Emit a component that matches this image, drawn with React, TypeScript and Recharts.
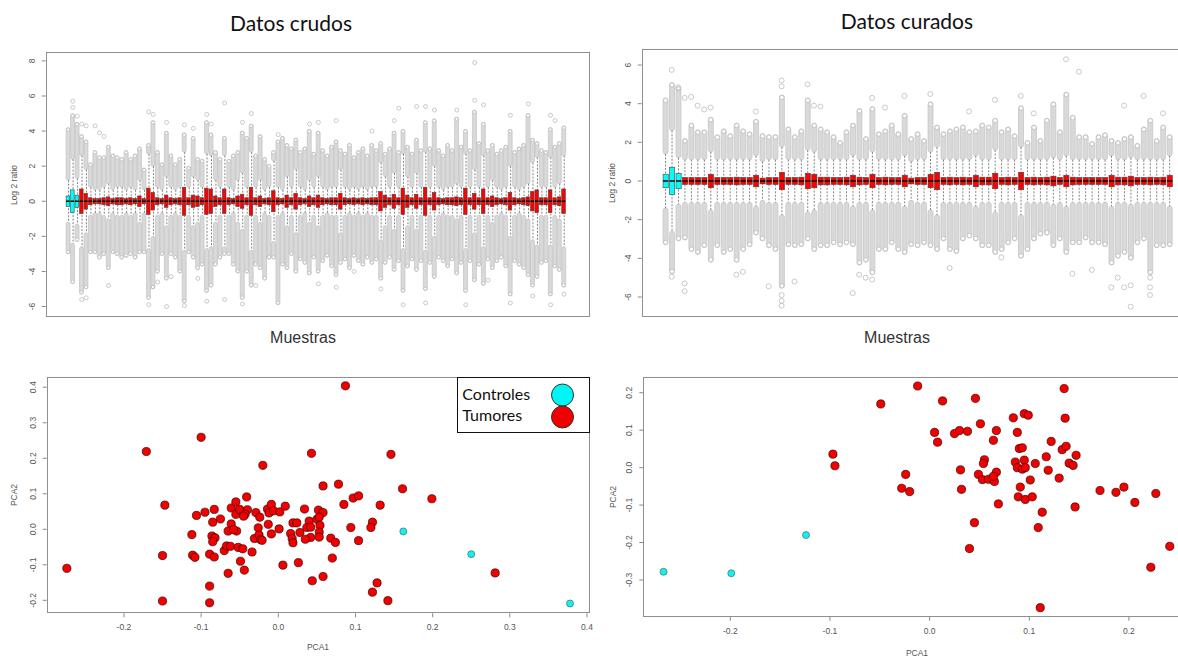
import React from 'react';
import { ComposedChart, ScatterChart, Bar, Scatter, XAxis, YAxis } from 'recharts';

const FONT = '"Liberation Sans", Arial, sans-serif';
const TITLE_FONT = 'Lato, "Open Sans", sans-serif';

// ---------- Datos crudos: 112 samples, first three are controls ----------
const crudosControls = [1, 2, 3];
// half height of each box (q3; q1 is the mirror)
const crudosBox = [
  0.3, 0.65, 0.35, 0.7, 0.45, 0.2, 0.15, 0.15, 0.2, 0.25, 0.15, 0.2, 0.2, 0.15, 0.2, 0.15,
  0.3, 0.15, 0.75, 0.5, 0.2, 0.15, 0.35, 0.2, 0.15, 0.2, 0.8, 0.2, 0.35, 0.3, 0.2, 0.75,
  0.7, 0.3, 0.2, 0.7, 0.2, 0.15, 0.3, 0.4, 0.2, 0.8, 0.2, 0.3, 0.15, 0.2, 0.6, 0.2,
  0.15, 0.35, 0.2, 0.45, 0.2, 0.15, 0.3, 0.2, 0.35, 0.2, 0.15, 0.2, 0.2, 0.45, 0.2, 0.15,
  0.2, 0.15, 0.2, 0.15, 0.2, 0.2, 0.55, 0.35, 0.2, 0.4, 0.2, 0.75, 0.35, 0.2, 0.4, 0.2,
  0.8, 0.2, 0.5, 0.2, 0.15, 0.2, 0.2, 0.25, 0.2, 0.75, 0.2, 0.45, 0.2, 0.7, 0.2, 0.3,
  0.2, 0.15, 0.2, 0.5, 0.2, 0.15, 0.2, 0.25, 0.55, 0.65, 0.2, 0.2, 0.65, 0.2, 0.25, 0.7,
];
// whisker reach (symmetric)
const crudosWhisk = [
  1.2, 2.4, 1.3, 2.6, 1.8, 0.8, 0.65, 0.65, 0.8, 1.0, 0.65, 0.8, 0.8, 0.65, 0.8, 0.65,
  1.2, 0.65, 2.7, 2.0, 0.8, 0.65, 1.4, 0.8, 0.65, 0.8, 2.8, 0.8, 1.4, 1.2, 0.8, 2.7,
  2.6, 1.2, 0.8, 2.6, 0.8, 0.65, 1.2, 1.6, 0.8, 2.8, 0.8, 1.2, 0.65, 0.8, 2.3, 0.8,
  0.65, 1.4, 0.8, 1.8, 0.8, 0.65, 1.2, 0.8, 1.4, 0.8, 0.65, 0.8, 0.8, 1.8, 0.8, 0.65,
  0.8, 0.65, 0.8, 0.65, 0.8, 0.8, 2.2, 1.4, 0.8, 1.6, 0.8, 2.7, 1.4, 0.8, 1.6, 0.8,
  2.8, 0.8, 2.0, 0.8, 0.65, 0.8, 0.8, 1.0, 0.8, 2.7, 0.8, 1.8, 0.8, 2.6, 0.8, 1.2,
  0.8, 0.65, 0.8, 2.0, 0.8, 0.65, 0.8, 1.0, 2.2, 2.5, 0.8, 0.8, 2.5, 0.8, 1.0, 2.6,
];
// top of the dense run of outliers
const crudosMax = [
  4.2, 5.0, 4.5, 3.8, 3.5, 2.2, 2.9, 2.6, 2.6, 3.2, 2.7, 2.6, 2.5, 2.9, 2.5, 2.7,
  3.1, 1.9, 3.3, 4.6, 2.9, 2.2, 4.0, 2.7, 2.2, 2.5, 3.9, 2.0, 3.7, 2.5, 2.4, 4.6,
  3.9, 2.9, 2.5, 3.7, 2.4, 2.7, 2.9, 4.0, 3.7, 4.4, 2.7, 3.8, 2.5, 2.1, 2.9, 3.5,
  3.7, 3.3, 3.1, 3.6, 2.9, 3.1, 4.1, 2.8, 4.0, 3.0, 2.7, 3.2, 3.5, 3.0, 2.8, 3.3,
  2.6, 2.9, 3.1, 2.7, 3.3, 3.0, 3.4, 2.8, 3.1, 4.0, 2.9, 4.1, 3.2, 2.8, 3.6, 3.0,
  4.6, 3.1, 4.7, 3.0, 2.7, 3.3, 3.0, 4.8, 3.2, 4.1, 3.0, 5.2, 3.4, 4.5, 3.0, 3.3,
  2.8, 3.0, 3.2, 4.1, 2.9, 3.1, 3.3, 5.0, 3.6, 3.4, 3.0, 2.9, 4.2, 3.2, 3.4, 4.3,
];
// bottom of the dense run of outliers
const crudosMin = [
  -3.0, -4.7, -2.3, -5.3, -5.0, -3.0, -3.0, -3.3, -3.1, -3.9, -3.0, -3.1, -3.3, -3.2, -3.1, -3.3,
  -3.0, -3.0, -5.6, -5.0, -4.1, -3.1, -4.5, -3.1, -3.3, -4.1, -5.8, -3.0, -3.3, -3.9, -3.7, -5.2,
  -4.9, -3.7, -3.3, -3.1, -3.1, -3.7, -4.1, -5.6, -4.1, -4.9, -3.7, -3.9, -4.5, -3.3, -3.3, -5.9,
  -3.7, -3.9, -3.1, -4.1, -3.4, -3.6, -4.2, -3.3, -4.1, -3.5, -3.2, -3.8, -4.3, -3.6, -3.4, -3.9,
  -3.2, -3.5, -3.7, -3.3, -3.6, -3.4, -4.5, -3.6, -3.3, -4.0, -3.5, -5.2, -3.8, -3.4, -4.0, -3.5,
  -5.1, -3.6, -4.4, -3.3, -3.5, -3.8, -3.4, -4.2, -3.6, -5.2, -3.5, -4.6, -3.7, -4.8, -3.4, -3.9,
  -3.5, -3.3, -3.8, -5.4, -3.5, -3.7, -3.9, -4.3, -4.9, -4.4, -3.6, -3.5, -5.4, -3.8, -4.0, -4.9,
];
// isolated outliers [sample, value]
const crudosOutliers = [
  [2, 5.7], [2, 5.35], [3, 4.85], [4, 4.4], [5, 4.3], [7, 4.3], [8, 3.9], [9, 3.7], [19, 5.1],
  [20, 4.95], [23, 4.5], [27, 4.35], [29, 4.15], [32, 4.95], [33, 4.4], [36, 5.6], [40, 4.5],
  [42, 5.0], [48, 3.8], [55, 4.4], [57, 4.5], [61, 4.6], [69, 4.0], [74, 4.6], [75, 5.3],
  [79, 5.4], [81, 5.4], [83, 5.2], [88, 5.2], [92, 7.9], [92, 5.75], [94, 5.5], [100, 4.9],
  [104, 5.55], [109, 4.9], [110, 4.6],
  [4, -5.6], [5, -5.5], [10, -4.8], [19, -5.9], [21, -4.6], [23, -6.0], [27, -5.95], [32, -5.7],
  [36, -5.6], [40, -5.85], [43, -4.8], [57, -4.7], [61, -4.9], [65, -4.0], [71, -5.0],
  [76, -5.9], [81, -5.8], [90, -5.9], [95, -4.5], [100, -5.8], [105, -5.4], [109, -5.9],
  [112, -5.3], [30, -4.4], [24, -4.3],
];
const crudosTicks = [-6, -4, -2, 0, 2, 4, 6, 8];

// ---------- Datos curados: 79 samples, first three are controls ----------
const curadosControls = [1, 2, 3];
const curadosBox = [
  0.35, 0.7, 0.4, 0.18, 0.18, 0.18, 0.18, 0.35, 0.18, 0.18, 0.18, 0.2, 0.18, 0.18, 0.3, 0.15,
  0.18, 0.18, 0.45, 0.18, 0.18, 0.2, 0.4, 0.35, 0.2, 0.2, 0.18, 0.18, 0.2, 0.3, 0.2, 0.18,
  0.35, 0.18, 0.2, 0.18, 0.18, 0.3, 0.15, 0.18, 0.18, 0.35, 0.45, 0.18, 0.2, 0.18, 0.2, 0.18,
  0.3, 0.2, 0.2, 0.4, 0.18, 0.2, 0.18, 0.45, 0.18, 0.2, 0.18, 0.2, 0.25, 0.18, 0.3, 0.2,
  0.18, 0.18, 0.18, 0.18, 0.18, 0.3, 0.2, 0.2, 0.25, 0.18, 0.18, 0.2, 0.18, 0.2, 0.3,
];
const curadosWhisk = [
  1.4, 2.6, 1.2, 1.1, 1.1, 1.1, 1.1, 1.5, 1.1, 1.1, 1.1, 1.1, 1.1, 1.1, 1.3, 1.0,
  1.1, 1.1, 1.75, 1.1, 1.1, 1.1, 1.6, 1.5, 1.1, 1.1, 1.1, 1.1, 1.1, 1.3, 1.1, 1.1,
  1.5, 1.1, 1.1, 1.1, 1.1, 1.3, 1.0, 1.1, 1.1, 1.5, 1.75, 1.1, 1.1, 1.1, 1.1, 1.1,
  1.3, 1.1, 1.1, 1.6, 1.1, 1.1, 1.1, 1.75, 1.1, 1.1, 1.1, 1.1, 1.2, 1.1, 1.3, 1.1,
  1.1, 1.1, 1.1, 1.1, 1.1, 1.3, 1.1, 1.1, 1.2, 1.1, 1.1, 1.1, 1.1, 1.1, 1.3,
];
const curadosMax = [
  4.3, 5.1, 4.9, 2.2, 3.0, 2.65, 2.65, 3.3, 2.4, 2.7, 2.45, 3.0, 2.7, 2.55, 3.2, 2.45,
  2.4, 2.4, 4.45, 2.8, 2.4, 2.7, 4.3, 3.0, 2.8, 2.65, 2.4, 2.1, 2.65, 3.0, 3.75, 2.3,
  3.85, 2.55, 2.7, 3.0, 2.55, 3.5, 2.3, 2.55, 2.2, 4.1, 2.9, 2.55, 2.7, 2.8, 2.9, 2.65,
  2.7, 3.0, 2.9, 3.25, 2.65, 2.8, 2.45, 3.9, 2.1, 2.9, 2.2, 3.25, 4.1, 2.65, 4.6, 3.4,
  2.4, 2.4, 2.05, 2.4, 2.5, 2.2, 2.1, 2.3, 2.4, 1.95, 2.8, 3.25, 2.2, 2.9, 2.4,
];
const curadosMin = [
  -3.3, -4.8, -3.1, -3.05, -3.65, -3.8, -3.45, -4.2, -3.45, -3.8, -3.65, -4.2, -3.65, -3.4, -2.8, -3.1,
  -3.45, -3.65, -5.55, -3.4, -3.45, -3.4, -3.1, -3.65, -3.45, -3.45, -3.3, -3.4, -3.3, -3.4, -4.35, -4.2,
  -4.85, -3.65, -3.65, -3.3, -3.65, -3.8, -3.4, -3.45, -3.3, -3.45, -3.65, -3.1, -3.65, -3.75, -3.1, -2.95,
  -3.1, -3.45, -3.45, -3.8, -3.65, -3.3, -3.1, -4.0, -3.65, -3.1, -2.85, -2.8, -3.45, -3.1, -3.8, -3.3,
  -3.3, -3.05, -3.3, -3.3, -3.4, -4.35, -4.0, -3.8, -4.1, -3.3, -3.1, -4.85, -3.45, -3.45, -3.4,
];
const curadosOutliers = [
  [2, 5.75], [3, 4.85], [4, 4.3], [5, 4.35], [6, 3.9], [7, 3.7], [8, 3.8], [15, 3.6], [19, 4.9],
  [19, 5.2], [23, 5.0], [24, 3.9], [25, 3.85], [33, 4.3], [35, 3.8], [38, 4.4], [42, 4.5],
  [48, 3.6], [52, 4.2], [56, 4.4], [58, 3.5], [63, 6.3], [65, 5.65], [72, 3.9], [75, 4.4], [78, 3.5],
  [4, -5.3], [4, -5.7], [12, -4.85], [17, -5.45], [19, -5.9], [19, -6.2], [19, -6.45], [21, -5.2],
  [13, -4.7], [30, -5.8], [31, -4.85], [32, -5.0], [33, -5.1], [45, -4.5], [53, -3.95], [64, -4.8],
  [67, -4.6], [70, -5.5], [71, -5.0], [72, -5.5], [73, -5.4], [73, -6.5], [76, -5.0], [76, -5.5],
  [76, -5.9], [2, -4.95],
];
const curadosTicks = [-6, -4, -2, 0, 2, 4, 6];

// every median was read at 0
const sampleMedian = 0;

// ---------- PCA, datos crudos ----------
const crudosPcaTumores = [
  [-0.274, -0.11], [-0.171, 0.219], [-0.1, 0.259], [-0.02, 0.18], [-0.147, 0.068], [-0.15, -0.074],
  [-0.15, -0.202], [-0.089, -0.16], [-0.089, -0.207], [-0.065, -0.124], [-0.044, -0.115], [-0.049, -0.09],
  [0.006, -0.101], [0.026, -0.094], [-0.112, -0.015], [-0.111, -0.073], [-0.108, -0.079], [-0.106, 0.039],
  [-0.095, 0.048], [-0.083, 0.056], [-0.085, 0.02], [-0.086, -0.019], [-0.082, -0.024], [-0.085, -0.035],
  [-0.089, -0.07], [-0.083, -0.078], [-0.075, 0.029], [-0.07, -0.06], [-0.067, -0.047], [-0.062, -0.048],
  [-0.065, -0.005], [-0.061, 0.015], [-0.061, 0.06], [-0.055, 0.077], [-0.055, 0.042], [-0.054, -0.005],
  [-0.058, -0.001], [-0.052, -0.051], [-0.046, -0.055], [-0.05, 0.056], [-0.041, 0.091], [-0.04, 0.055],
  [-0.043, 0.042], [-0.045, 0.037], [-0.034, -0.064], [-0.029, 0.047], [-0.024, 0.034], [-0.026, 0.004],
  [-0.031, -0.026], [-0.025, -0.016], [-0.023, -0.029], [-0.021, -0.031], [-0.013, 0.014], [-0.014, 0.057],
  [-0.012, 0.046], [-0.009, 0.07], [-0.009, -0.013], [-0.006, 0.052], [0.002, 0.049], [0.001, 0.001],
  [0.009, 0.065], [0.016, -0.012], [0.019, 0.018], [0.018, -0.026], [0.019, -0.038], [0.024, 0.018],
  [0.028, -0.009], [0.087, 0.404], [0.043, 0.214], [0.146, 0.211], [0.058, 0.122], [0.078, 0.127],
  [0.161, 0.114], [0.199, 0.086], [0.097, 0.088], [0.104, 0.094], [0.085, 0.07], [0.132, 0.068],
  [0.034, 0.057], [0.052, 0.054], [0.058, 0.047], [0.04, 0.023], [0.05, 0.028], [0.053, 0.034],
  [0.037, 0.005], [0.042, 0.006], [0.054, 0.011], [0.053, -0.008], [0.053, -0.022], [0.042, -0.023],
  [0.035, -0.028], [0.068, -0.025], [0.074, -0.037], [0.094, 0.005], [0.122, 0.02], [0.12, 0.005],
  [0.104, -0.032], [0.07, -0.081], [0.058, -0.133], [0.044, -0.145], [0.128, -0.151], [0.122, -0.177],
  [0.142, -0.201], [0.281, -0.123],
];
const crudosPcaControles = [[0.162, -0.006], [0.25, -0.07], [0.378, -0.209]];
const crudosPcaXTicks = [-0.2, -0.1, 0, 0.1, 0.2, 0.3, 0.4];
const crudosPcaYTicks = [-0.2, -0.1, 0, 0.1, 0.2, 0.3, 0.4];

// ---------- PCA, datos curados ----------
const curadosPcaTumores = [
  [-0.049, 0.17], [-0.097, 0.036], [-0.095, 0.005], [-0.028, -0.055], [-0.012, 0.218], [0.013, 0.178],
  [0.046, 0.185], [0.135, 0.211], [0.095, 0.144], [0.099, 0.14], [0.084, 0.133], [0.136, 0.132],
  [0.051, 0.117], [0.005, 0.094], [0.025, 0.091], [0.03, 0.099], [0.038, 0.097], [0.067, 0.099],
  [0.088, 0.094], [0.008, 0.068], [0.064, 0.073], [0.122, 0.07], [0.09, 0.051], [0.093, 0.053],
  [0.133, 0.048], [0.137, 0.057], [0.117, 0.029], [0.147, 0.033], [0.055, 0.021], [0.054, 0.011],
  [0.086, 0.015], [0.095, 0.02], [0.106, 0.011], [0.14, 0.012], [0.144, 0.006], [0.088, 0.0],
  [0.093, -0.004], [0.096, 0.0], [0.119, -0.007], [0.031, -0.006], [-0.024, -0.018], [0.049, -0.018],
  [0.067, -0.012], [0.053, -0.032], [0.059, -0.031], [0.065, -0.037], [0.064, -0.023], [0.101, -0.033],
  [0.13, -0.028], [-0.02, -0.064], [0.032, -0.058], [0.091, -0.052], [0.089, -0.078], [0.096, -0.085],
  [0.103, -0.078], [0.069, -0.097], [0.171, -0.061], [0.187, -0.066], [0.195, -0.052], [0.206, -0.093],
  [0.227, -0.069], [0.146, -0.105], [0.113, -0.119], [0.109, -0.16], [0.045, -0.147], [0.04, -0.216],
  [0.241, -0.21], [0.222, -0.266], [0.111, -0.374],
];
const curadosPcaControles = [[-0.267, -0.278], [-0.199, -0.282], [-0.124, -0.18]];
const curadosPcaXTicks = [-0.2, -0.1, 0, 0.1, 0.2];
const curadosPcaYTicks = [-0.3, -0.2, -0.1, 0, 0.1, 0.2];

// ---------- helpers ----------
type Row = {
  sample: number;
  control: boolean;
  upper: number[];
  lower: number[];
  whisker: number[];
  box: number[];
  median: number;
};

function buildRows(box: number[], whisk: number[], max: number[], min: number[], controls: number[]): Row[] {
  return box.map((b, i) => ({
    sample: i + 1,
    control: controls.includes(i + 1),
    upper: [whisk[i], max[i]],
    lower: [min[i], -whisk[i]],
    whisker: [-whisk[i], whisk[i]],
    box: [-b, b],
    median: sampleMedian,
  }));
}

const toPoints = (pairs: number[][]) => pairs.map(([x, y]) => ({ x, y }));
const toOutliers = (pairs: number[][]) => pairs.map(([sample, value]) => ({ sample, value }));

const intLabel = (v: number) => String(v);
const decLabel = (v: number) => v.toFixed(1);

function rotatedYTick(format: (v: number) => string) {
  return (props: any) => {
    const { x, y, payload } = props;
    const lx = x - 5;
    return (
      <text x={lx} y={y} transform={`rotate(-90 ${lx} ${y})`} textAnchor="middle"
        fontSize={8.5} fill="#555" fontFamily={FONT}>
        {format(payload.value)}
      </text>
    );
  };
}

function bottomXTick(format: (v: number) => string) {
  return (props: any) => {
    const { x, y, payload } = props;
    return (
      <text x={x} y={y + 11} textAnchor="middle" fontSize={8.5} fill="#555" fontFamily={FONT}>
        {format(payload.value)}
      </text>
    );
  };
}

// dense run of gray hollow circles: light core, darker rims
const bandShape = (dir: 'up' | 'down', r: number) => (props: any) => {
  const { x, y, width, height } = props;
  const top = Math.min(y, y + height);
  const h = Math.abs(height);
  const cx = x + width / 2;
  const endY = dir === 'up' ? top + r : top + h - r;
  return (
    <g>
      <rect x={x} y={top} width={width} height={h} rx={width / 2} fill="#d9d9d9" stroke="#c3c3c3" strokeWidth={0.7} />
      <circle cx={cx} cy={endY} r={r - 0.4} fill="#fff" stroke="#bdbdbd" strokeWidth={0.8} />
    </g>
  );
};

const whiskerShape = (props: any) => {
  const { x, y, width, height } = props;
  const cx = x + width / 2;
  return (
    <line x1={cx} x2={cx} y1={y} y2={y + height} stroke="#333" strokeWidth={0.6} strokeDasharray="2 1.5" />
  );
};

const boxShape = (props: any) => {
  const { x, y, width, height, payload } = props;
  const top = Math.min(y, y + height);
  const h = Math.abs(height);
  const [q1, q3] = payload.box;
  const my = top + (h * (q3 - payload.median)) / (q3 - q1);
  return (
    <g>
      <rect x={x} y={top} width={width} height={h} fill={payload.control ? '#00ffff' : '#ff0000'}
        stroke="#444" strokeWidth={0.6} />
      <line x1={x} x2={x + width} y1={my} y2={my} stroke="#000" strokeWidth={1.6} />
    </g>
  );
};

const hollowDot = (r: number) => (props: any) => (
  <circle cx={props.cx} cy={props.cy} r={r} fill="none" stroke="#bdbdbd" strokeWidth={0.8} />
);

const pcaDot = (r: number, fill: string, stroke: string) => (props: any) => (
  <circle cx={props.cx} cy={props.cy} r={r} fill={fill} stroke={stroke} strokeWidth={0.7} />
);

type BoxPanelProps = {
  rows: Row[];
  outliers: { sample: number; value: number }[];
  xDomain: number[];
  yDomain: number[];
  yTicks: number[];
  width: number;
  height: number;
  margin: { top: number; right: number; bottom: number; left: number };
  yAxisWidth: number;
  boxWidth: number;
  bandWidth: number;
  dotR: number;
};

function BoxPanel(p: BoxPanelProps) {
  const axes = ['up', 'down', 'whisk', 'box'];
  return (
    <ComposedChart width={p.width} height={p.height} data={p.rows} margin={p.margin}>
      {axes.map((id) => (
        <XAxis key={id} xAxisId={id} type="number" dataKey="sample" domain={p.xDomain} allowDataOverflow hide />
      ))}
      <YAxis type="number" domain={p.yDomain} ticks={p.yTicks} allowDataOverflow width={p.yAxisWidth}
        axisLine={false} tickSize={4} tickLine={{ stroke: '#888' }} tick={rotatedYTick(intLabel)} />
      <Bar xAxisId="up" dataKey="upper" barSize={p.bandWidth} shape={bandShape('up', p.dotR)} isAnimationActive={false} />
      <Bar xAxisId="down" dataKey="lower" barSize={p.bandWidth} shape={bandShape('down', p.dotR)} isAnimationActive={false} />
      <Scatter xAxisId="up" data={p.outliers} dataKey="value" shape={hollowDot(p.dotR)} isAnimationActive={false} />
      <Bar xAxisId="whisk" dataKey="whisker" barSize={1} shape={whiskerShape} isAnimationActive={false} />
      <Bar xAxisId="box" dataKey="box" barSize={p.boxWidth} shape={boxShape} isAnimationActive={false} />
    </ComposedChart>
  );
}

type PcaPanelProps = {
  tumores: { x: number; y: number }[];
  controles: { x: number; y: number }[];
  xDomain: number[];
  yDomain: number[];
  xTicks: number[];
  yTicks: number[];
  width: number;
  height: number;
  margin: { top: number; right: number; bottom: number; left: number };
  yAxisWidth: number;
};

function PcaPanel(p: PcaPanelProps) {
  return (
    <ScatterChart width={p.width} height={p.height} margin={p.margin}>
      <XAxis type="number" dataKey="x" domain={p.xDomain} ticks={p.xTicks} allowDataOverflow height={30}
        axisLine={false} tickSize={4} tickLine={{ stroke: '#888' }} tick={bottomXTick(decLabel)} />
      <YAxis type="number" dataKey="y" domain={p.yDomain} ticks={p.yTicks} allowDataOverflow width={p.yAxisWidth}
        axisLine={false} tickSize={4} tickLine={{ stroke: '#888' }} tick={rotatedYTick(decLabel)} />
      <Scatter data={p.tumores} shape={pcaDot(4.1, '#f20000', '#3a0000')} isAnimationActive={false} />
      <Scatter data={p.controles} shape={pcaDot(3.5, '#12f0f0', '#4a6a6a')} isAnimationActive={false} />
    </ScatterChart>
  );
}

const abs = (left: number, top: number): React.CSSProperties => ({ position: 'absolute', left, top });

function Frame({ left, top, right, bottom, color = '#8f8f8f', w = 1.3 }: any) {
  return (
    <div style={{
      position: 'absolute', left, top, width: right - left, height: bottom - top,
      border: `${w}px solid ${color}`, boxSizing: 'border-box', pointerEvents: 'none',
    }} />
  );
}

function Text({ x, y, children, size, family = FONT, color = '#222', rotate = false }: any) {
  return (
    <div style={{
      position: 'absolute', left: x, top: y, transform: `translate(-50%, -50%)${rotate ? ' rotate(-90deg)' : ''}`,
      fontSize: size, fontFamily: family, color, whiteSpace: 'nowrap', lineHeight: 1,
    }}>
      {children}
    </div>
  );
}

export default function App() {
  const crudosRows = buildRows(crudosBox, crudosWhisk, crudosMax, crudosMin, crudosControls);
  const curadosRows = buildRows(curadosBox, curadosWhisk, curadosMax, curadosMin, curadosControls);

  return (
    <div style={{ position: 'absolute', left: 0, top: 0, width: 1178, height: 658, overflow: 'hidden', background: '#fff' }}>
      {/* top-left: raw boxplots */}
      <div style={abs(0, 0)}>
        <BoxPanel rows={crudosRows} outliers={toOutliers(crudosOutliers)} xDomain={[-4.07, 117.83]}
          yDomain={[-6.58, 8.49]} yTicks={crudosTicks} width={600} height={330}
          margin={{ top: 52.3, right: 10, bottom: 13.3, left: 0 }} yAxisWidth={45.7}
          boxWidth={3.6} bandWidth={4} dotR={2} />
      </div>
      <Frame left={45.7} top={52.3} right={590} bottom={316.7} />

      {/* top-right: curated boxplots */}
      <div style={abs(600, 0)}>
        <BoxPanel rows={curadosRows} outliers={toOutliers(curadosOutliers)} xDomain={[-2.65, 82.65]}
          yDomain={[-7.02, 6.83]} yTicks={curadosTicks} width={598} height={330}
          margin={{ top: 49, right: 5, bottom: 13.3, left: 0 }} yAxisWidth={41.7}
          boxWidth={5.2} bandWidth={5} dotR={2.5} />
      </div>
      <Frame left={641.7} top={49} right={1193} bottom={316.7} />

      {/* bottom-left: PCA raw */}
      <div style={abs(0, 360)}>
        <PcaPanel tumores={toPoints(crudosPcaTumores)} controles={toPoints(crudosPcaControles)}
          xDomain={[-0.3001, 0.4039]} yDomain={[-0.2366, 0.428]} xTicks={crudosPcaXTicks} yTicks={crudosPcaYTicks}
          width={600} height={298} margin={{ top: 17.3, right: 10, bottom: 14.7, left: 0 }} yAxisWidth={46.7} />
      </div>
      <Frame left={46.7} top={377.3} right={590} bottom={613.3} />

      {/* bottom-right: PCA curated */}
      <div style={abs(600, 360)}>
        <PcaPanel tumores={toPoints(curadosPcaTumores)} controles={toPoints(curadosPcaControles)}
          xDomain={[-0.2873, 0.2613]} yDomain={[-0.398, 0.2428]} xTicks={curadosPcaXTicks} yTicks={curadosPcaYTicks}
          width={594} height={298} margin={{ top: 16.7, right: 4, bottom: 11.3, left: 0 }} yAxisWidth={43.3} />
      </div>
      <Frame left={643.3} top={376.7} right={1190} bottom={616.7} />

      {/* legend */}
      <div style={{
        position: 'absolute', left: 457.3, top: 377.3, width: 132.7, height: 56, boxSizing: 'border-box',
        border: '1.5px solid #111', background: '#fff',
      }}>
        <svg width={130} height={53} style={{ position: 'absolute', left: 0, top: 0 }}>
          <circle cx={104.5} cy={17} r={11} fill="#00f5f5" stroke="#333" strokeWidth={1} />
          <circle cx={104.5} cy={39} r={11} fill="#f00000" stroke="#333" strokeWidth={1} />
        </svg>
        <div style={{ position: 'absolute', left: 4, top: 8, fontFamily: TITLE_FONT, fontSize: 16, lineHeight: 1, color: '#111' }}>Controles</div>
        <div style={{ position: 'absolute', left: 4, top: 29, fontFamily: TITLE_FONT, fontSize: 16, lineHeight: 1, color: '#111' }}>Tumores</div>
      </div>

      {/* titles and axis labels */}
      <Text x={291} y={22} size={21} family={TITLE_FONT} color="#111">Datos crudos</Text>
      <Text x={907} y={20} size={21} family={TITLE_FONT} color="#111">Datos curados</Text>
      <Text x={303} y={338} size={16} color="#333">Muestras</Text>
      <Text x={897} y={338} size={16} color="#333">Muestras</Text>
      <Text x={14} y={185} size={8.5} color="#555" rotate>Log 2 ratio</Text>
      <Text x={611.5} y={183} size={8.5} color="#555" rotate>Log 2 ratio</Text>
      <Text x={14} y={495} size={8.5} color="#555" rotate>PCA2</Text>
      <Text x={613} y={497} size={8.5} color="#555" rotate>PCA2</Text>
      <Text x={318} y={647} size={8.5} color="#555">PCA1</Text>
      <Text x={917} y={653} size={8.5} color="#555">PCA1</Text>
    </div>
  );
}
